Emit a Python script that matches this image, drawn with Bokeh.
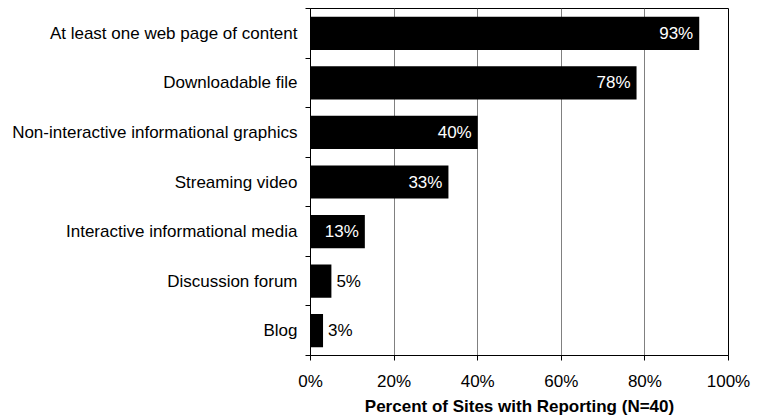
from bokeh.plotting import figure
from bokeh.models import ColumnDataSource, FixedTicker, Range1d
from bokeh.core.properties import value
from bokeh.embed import file_html
from bokeh.resources import INLINE

categories = ["At least one web page of content", "Downloadable file",
              "Non-interactive informational graphics", "Streaming video",
              "Interactive informational media", "Discussion forum", "Blog"]
values = [93, 78, 40, 33, 13, 5, 3]
x_ticks = [0, 20, 40, 60, 80, 100]
x_tick_labels = ["0%", "20%", "40%", "60%", "80%", "100%"]
x_title = "Percent of Sites with Reporting (N=40)"

FONT = "Liberation Sans"
FS = "17px"

n = len(categories)
ypos = [n - 0.5 - i for i in range(n)]
inside = [v >= 10 for v in values]
src = ColumnDataSource(dict(
    y=ypos, v=values,
    label=[f"{v}%" for v in values],
    align=["right" if i else "left" for i in inside],
    tcolor=["white" if i else "black" for i in inside],
    xoff=[-6 if i else 5 for i in inside],
))

p = figure(width=763, height=419, output_backend="svg", toolbar_location=None,
           x_range=Range1d(0, 100), y_range=Range1d(0, n),
           min_border_left=310, min_border_right=35, min_border_top=8,
           min_border_bottom=64)
p.outline_line_color = "black"
p.outline_line_width = 1

p.hbar(y="y", left=0, right="v", height=0.67, fill_color="black",
       line_color=None, source=src)
p.text(x="v", y="y", text="label", text_align="align", text_color="tcolor",
       x_offset="xoff", text_baseline="middle", text_font=value(FONT),
       text_font_size=FS, source=src)

# x axis
xa = p.xaxis[0]
xa.ticker = FixedTicker(ticks=x_ticks, minor_ticks=[])
xa.major_label_overrides = {t: l for t, l in zip(x_ticks, x_tick_labels)}
xa.major_tick_out = 5
xa.major_tick_in = 0
xa.major_tick_line_color = "black"
xa.axis_line_color = "black"
xa.major_label_text_font = FONT
xa.major_label_text_font_size = FS
xa.major_label_text_color = "black"
xa.major_label_standoff = 11
xa.axis_label = x_title
xa.axis_label_text_font = FONT
xa.axis_label_text_font_size = FS
xa.axis_label_text_font_style = "bold"
xa.axis_label_text_color = "black"
xa.axis_label_standoff = 3

# y axis
ya = p.yaxis[0]
ya.ticker = FixedTicker(ticks=ypos, minor_ticks=list(range(n + 1)))
ya.major_label_overrides = {y: c for y, c in zip(ypos, categories)}
ya.major_tick_line_color = None
ya.major_tick_out = 0
ya.major_tick_in = 0
ya.minor_tick_out = 5
ya.minor_tick_in = 0
ya.minor_tick_line_color = "black"
ya.axis_line_color = "black"
ya.major_label_text_font = FONT
ya.major_label_text_font_size = FS
ya.major_label_text_color = "black"
ya.major_label_standoff = 8

p.xgrid.ticker = FixedTicker(ticks=[20, 40, 60, 80])
p.xgrid.grid_line_color = "#808080"
p.ygrid.grid_line_color = None

open("out.html", "w").write(file_html(p, INLINE))
